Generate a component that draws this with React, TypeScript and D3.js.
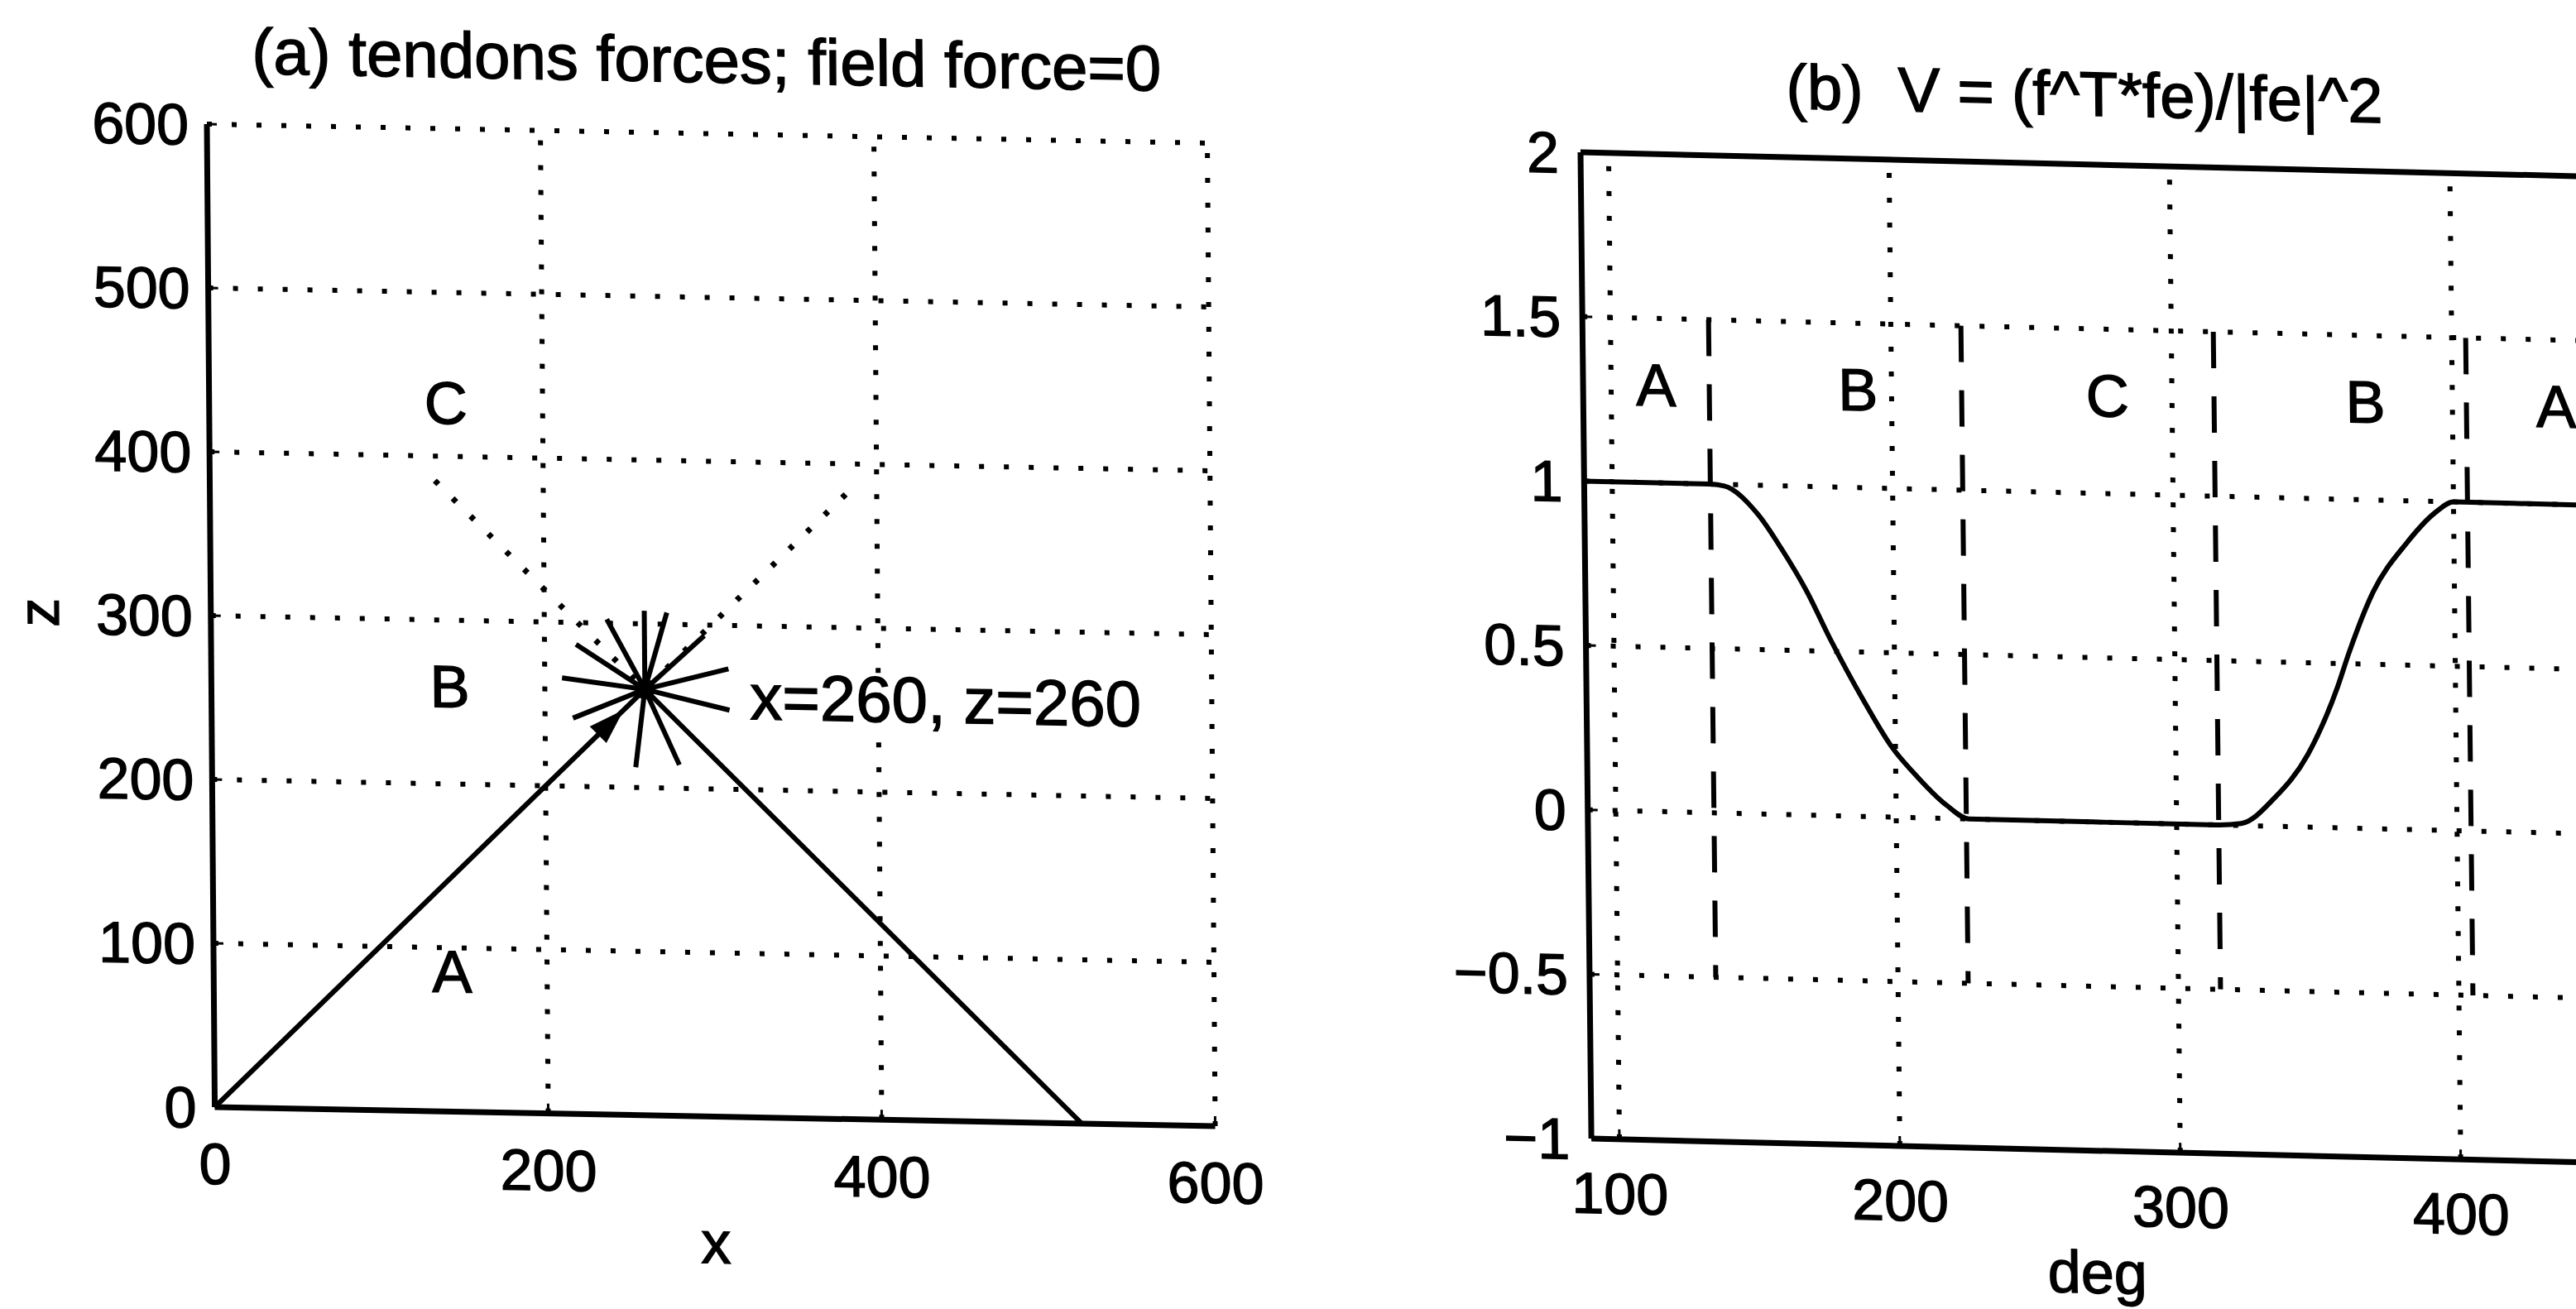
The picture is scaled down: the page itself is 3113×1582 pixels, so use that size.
import * as d3 from 'd3';

// panel (a): tendon geometry
const A_XTICKS = [0, 200, 400, 600];
const A_ZTICKS = [0, 100, 200, 300, 400, 500, 600];
const A_XGRID = [200, 400, 600];
const A_ZGRID = [100, 200, 300, 400, 500, 600];

const TENDON_X = [0, 260, 520];
const TENDON_Z = [0, 260, 0];
const TENDON_C_X = [135, 260, 385];
const TENDON_C_Z = [385, 260, 385];
const END_X = 260;
const END_Z = 260;
const FORCE_ANGLES = [90, 74, 118, 43, 147, 15, 173, -13, -157, -66, -97];
const FORCE_LENGTHS = [48, 49, 48, 49, 49, 52, 50, 52, 47, 50, 48];
const ZONE_A_NAMES = ['C', 'B', 'A'];
const ZONE_A_X = [142, 143, 143];
const ZONE_A_Z = [433, 260, 86];
const END_LABEL = 'x=260, z=260';
const END_LABEL_X = 323;
const END_LABEL_Z = 243;

// panel (b): V against angle
const B_XTICKS = [100, 200, 300, 400];
const B_YTICKS = [-1, -0.5, 0, 0.5, 1, 1.5, 2];
const B_YTICK_LABELS = ['\u22121', '\u22120.5', '0', '0.5', '1', '1.5', '2'];
const B_YGRID = [-0.5, 0, 0.5, 1, 1.5];
const DEG = [90, 135, 140, 152, 160, 169, 177, 189, 199, 206, 218, 226, 314, 323, 335, 347, 358, 362, 371, 383, 394, 400, 450];
const V = [1, 1, 0.995, 0.91, 0.81, 0.68, 0.54, 0.35, 0.21, 0.14, 0.04, 0, 0, 0.006, 0.086, 0.22, 0.43, 0.53, 0.72, 0.87, 0.97, 1, 1];
const DASHED_DEG = [135, 225, 315, 405];
const ZONE_B_NAMES = ['A', 'B', 'C', 'B', 'A'];
const ZONE_B_X = [116, 188, 277, 369, 437];
const ZONE_B_V = 1.3;

const W = 3113;
const H = 1582;
const FONT = '"Liberation Sans", Arial, Helvetica, sans-serif';
const DOT = { stroke: '#000', strokeWidth: 6, strokeDasharray: '6 24', fill: 'none' };
const SOLID = { stroke: '#000', strokeWidth: 6, fill: 'none' };
// scanned print: text a little heavier than the plain face
const INK = { stroke: '#000', strokeWidth: 1.4, fill: '#000' };

// the scan is slightly sheared; reproduce it around each panel's top-left corner
const skew = (px: number, py: number, b: number, c: number) =>
  `translate(${px},${py}) matrix(1,${b},${c},1,0,0) translate(${-px},${-py})`;

function PanelA() {
  const x = d3.scaleLinear().domain([0, 600]).range([250, 1459]);
  const z = d3.scaleLinear().domain([0, 600]).range([1338, 150]);
  const line = d3.line<number>().x((d) => x(TENDON_X[d])).y((d) => z(TENDON_Z[d]));
  const lineC = d3.line<number>().x((d) => x(TENDON_C_X[d])).y((d) => z(TENDON_C_Z[d]));
  const idx = [0, 1, 2];
  const cx = x(END_X);
  const cz = z(END_Z);

  // arrow head on the left tendon, pointing at the end point
  const dir = (225 * Math.PI) / 180;
  const tip = [END_X + 18 * Math.cos(dir), END_Z + 18 * Math.sin(dir)];
  const base = [END_X + 40 * Math.cos(dir), END_Z + 40 * Math.sin(dir)];
  const nx = -Math.sin(dir) * 7;
  const nz = Math.cos(dir) * 7;
  const head = [
    [x(tip[0]), z(tip[1])],
    [x(base[0] + nx), z(base[1] + nz)],
    [x(base[0] - nx), z(base[1] - nz)],
  ];

  return (
    <g transform={skew(250, 148, 0.019, 0.008)} fontFamily={FONT}>
      <text x={x(300)} y={88} fontSize={78} textAnchor="middle" {...INK}>
        (a) tendons forces; field force=0
      </text>
      {A_ZGRID.map((t) => (
        <line key={`zg${t}`} x1={x(0)} x2={x(600)} y1={z(t)} y2={z(t)} {...DOT} />
      ))}
      {A_XGRID.map((t) => (
        <line key={`xg${t}`} x1={x(t)} x2={x(t)} y1={z(0)} y2={z(600)} {...DOT} />
      ))}
      <line x1={x(0)} x2={x(0)} y1={z(0)} y2={z(600)} {...SOLID} strokeWidth={7} />
      <line x1={x(0)} x2={x(600)} y1={z(0)} y2={z(0)} {...SOLID} strokeWidth={7} />
      {A_ZTICKS.map((t) => (
        <line key={`zt${t}`} x1={x(0)} x2={x(0) + 12} y1={z(t)} y2={z(t)} {...SOLID} strokeWidth={3} />
      ))}
      {A_XTICKS.map((t) => (
        <line key={`xt${t}`} x1={x(t)} x2={x(t)} y1={z(0)} y2={z(0) - 12} {...SOLID} strokeWidth={3} />
      ))}
      {A_ZTICKS.map((t) => (
        <text key={`zl${t}`} x={x(0) - 22} y={z(t)} dy="0.36em" fontSize={70} textAnchor="end" {...INK}>
          {t}
        </text>
      ))}
      {A_XTICKS.map((t) => (
        <text key={`xl${t}`} x={x(t)} y={z(0) + 93} fontSize={70} textAnchor="middle" {...INK}>
          {t}
        </text>
      ))}
      <text x={x(300)} y={1515} fontSize={72} textAnchor="middle" {...INK}>
        x
      </text>
      <text transform={`translate(66,${z(300)}) rotate(-90)`} fontSize={70} textAnchor="middle" {...INK}>
        z
      </text>

      <path d={lineC(idx) ?? ''} {...DOT} strokeWidth={7} />
      <path d={line(idx) ?? ''} {...SOLID} />
      {FORCE_ANGLES.map((a, i) => {
        const r = (a * Math.PI) / 180;
        return (
          <line
            key={`f${i}`}
            x1={cx}
            y1={cz}
            x2={x(END_X + FORCE_LENGTHS[i] * Math.cos(r))}
            y2={z(END_Z + FORCE_LENGTHS[i] * Math.sin(r))}
            {...SOLID}
          />
        );
      })}
      <polygon points={head.map((p) => p.join(',')).join(' ')} fill="#000" />
      <circle cx={cx} cy={cz} r={12} fill="#000" />
      <text x={x(END_LABEL_X)} y={z(END_LABEL_Z)} fontSize={78} {...INK}>
        {END_LABEL}
      </text>

      {ZONE_A_NAMES.map((n, i) => (
        <text
          key={`za${i}`}
          x={x(ZONE_A_X[i])}
          y={z(ZONE_A_Z[i])}
          dy="0.36em"
          fontSize={72}
          textAnchor="middle"
          {...INK}
        >
          {n}
        </text>
      ))}
    </g>
  );
}

function PanelB() {
  const x = d3.scaleLinear().domain([90, 450]).range([1910, 3130]);
  const y = d3.scaleLinear().domain([-1, 2]).range([1376, 184]);
  const curve = d3
    .line<number>()
    .x((i) => x(DEG[i]))
    .y((i) => y(V[i]))
    .curve(d3.curveMonotoneX);

  return (
    <g transform={skew(1908, 184, 0.024, 0.011)} fontFamily={FONT}>
      <text x={x(270)} y={125} fontSize={76} textAnchor="middle" xmlSpace="preserve" {...INK}>
        {'(b)  V = (f^T*fe)/|fe|^2'}
      </text>
      {B_YGRID.map((t) => (
        <line key={`yg${t}`} x1={x(90)} x2={x(450)} y1={y(t)} y2={y(t)} {...DOT} />
      ))}
      {B_XTICKS.map((t) => (
        <line key={`xg${t}`} x1={x(t)} x2={x(t)} y1={y(-1)} y2={y(2)} {...DOT} />
      ))}
      {DASHED_DEG.map((t) => (
        <line
          key={`dd${t}`}
          x1={x(t)}
          x2={x(t)}
          y1={y(1.5)}
          y2={y(-0.5)}
          stroke="#000"
          strokeWidth={6}
          strokeDasharray="44 34"
        />
      ))}
      <line x1={x(90)} x2={x(90)} y1={y(-1)} y2={y(2)} {...SOLID} strokeWidth={7} />
      <line x1={x(90)} x2={x(450)} y1={y(-1)} y2={y(-1)} {...SOLID} strokeWidth={7} />
      <line x1={x(90)} x2={x(450)} y1={y(2)} y2={y(2)} {...SOLID} strokeWidth={7} />
      {B_YTICKS.map((t) => (
        <line key={`yt${t}`} x1={x(90)} x2={x(90) + 12} y1={y(t)} y2={y(t)} {...SOLID} strokeWidth={3} />
      ))}
      {B_XTICKS.map((t) => (
        <line key={`xt${t}`} x1={x(t)} x2={x(t)} y1={y(-1)} y2={y(-1) - 12} {...SOLID} strokeWidth={3} />
      ))}
      {B_YTICKS.map((t, i) => (
        <text key={`yl${t}`} x={x(90) - 26} y={y(t)} dy="0.36em" fontSize={70} textAnchor="end" {...INK}>
          {B_YTICK_LABELS[i]}
        </text>
      ))}
      {B_XTICKS.map((t) => (
        <text key={`xl${t}`} x={x(t)} y={1466} fontSize={70} textAnchor="middle" {...INK}>
          {t}
        </text>
      ))}
      <text x={x(270)} y={1548} fontSize={72} textAnchor="middle" {...INK}>
        deg
      </text>

      <path d={curve(DEG.map((_, i) => i)) ?? ''} {...SOLID} />

      {ZONE_B_NAMES.map((n, i) => (
        <text
          key={`zb${i}`}
          x={x(ZONE_B_X[i])}
          y={y(ZONE_B_V)}
          dy="0.36em"
          fontSize={72}
          textAnchor="middle"
          {...INK}
        >
          {n}
        </text>
      ))}
    </g>
  );
}

export default function App() {
  return (
    <div style={{ position: 'absolute', left: 0, top: 0, width: W, height: H }}>
      <svg width={W} height={H} style={{ display: 'block', background: '#fff' }}>
        <rect width={W} height={H} fill="#fff" />
        <PanelA />
        <PanelB />
      </svg>
    </div>
  );
}
